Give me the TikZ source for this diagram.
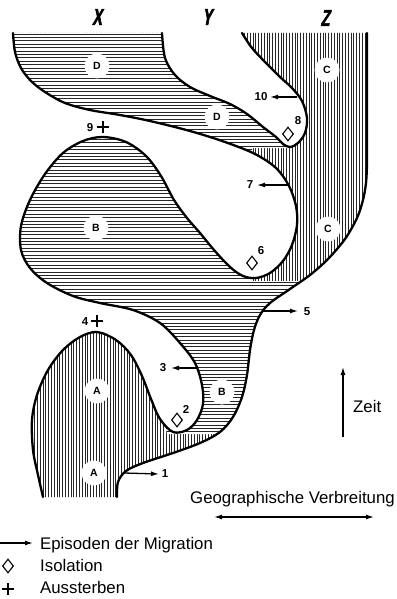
\documentclass[tikz,border=0pt]{standalone}
\usepackage{fontspec}
\usepackage{graphicx}
\setmainfont{Liberation Sans}
\newfontfamily\colfont{Liberation Sans Bold}[FakeBold=2.5, FakeSlant=0.18, FakeStretch=0.62]
\usetikzlibrary{arrows.meta,shapes.geometric}
\newcommand\pathP{plot[smooth,tension=0.55] coordinates{(13,33) (15,52) (21,68) (31,81) (45,92) (65,103) (90,110) (120,115) (150,121) (190,131) (225,142) (255,154) (276,168) (289,186) (296,206) (297,225) (292,245) (283,261) (270,273) (256,278) (243,276) (230,267) (214,250) (200,233) (187,218) (174,200) (161,176) (146,156) (126,142) (103,137) (83,141) (63,153) (45,174) (30,200) (21,226) (21,250) (30,268) (47,283) (73,296) (100,303) (133,310) (160,323) (180,343) (195,363) (202,385) (203,404) (197,420) (187,430) (173,432) (160,419) (151,399) (142,376) (131,355) (116,340) (97,332) (80,337) (63,350) (48,370) (37,395) (32,420) (33,450) (38,475) (43,497)}}
\newcommand\pathQj{-- plot[smooth,tension=0.55] coordinates{(117,497) (118,482) (126,471) (143,463) (173,453) (200,443) (220,432) (233,417) (242,397) (247,375) (250,350) (254,330) (260,315) (270,303) (290,289) (310,275) (328,259) (345,239) (357,218) (363,200) (366,183) (367,165)} -- (367,33)}
\newcommand\pathRj{-- plot[smooth,tension=0.55] coordinates{(242,33) (252,48) (266,63) (280,77) (292,88) (302,101) (307,118) (305,133) (298,143) (290,147) (283,144) (276,137) (263,127) (247,114) (230,104) (210,96) (190,87) (175,75) (165,58) (162,33)}}
\begin{document}
\begin{tikzpicture}[x=1pt,y=-1pt,
  outline/.style={line width=2.3pt, line join=round, line cap=round},
  hatch/.style={line width=0.85pt, black!85},
  halo/.style={circle, fill=white, inner sep=0pt, minimum size=25pt, font=\bfseries\fontsize{10.5}{11}\selectfont},
  num/.style={inner sep=0pt, font=\bfseries\fontsize{11.5}{12}\selectfont},
  mig/.style={line width=1.3pt, -{Latex[length=8pt,width=5pt]}},
  iso/.style={diamond, draw, line width=1.1pt, inner sep=0pt, minimum width=11pt, minimum height=14pt, fill=white},
  ext/.style={inner sep=0pt, minimum size=12pt, path picture={\draw[line width=2.2pt] (path picture bounding box.north) -- (path picture bounding box.south) (path picture bounding box.west) -- (path picture bounding box.east);}},
  txt/.style={inner sep=0pt, anchor=base west, font=\fontsize{16.8}{18}\selectfont},
  col/.style={inner sep=0pt, font=\colfont\fontsize{23}{23}\selectfont}
]
\useasboundingbox (0,0) rectangle (396,599);
\fill[white] (0,0) rectangle (396,599);
% vertical hatching everywhere in the shape
\begin{scope}
\clip \pathP \pathQj \pathRj -- cycle;
\foreach \x in {1,3.8,...,400} \draw[hatch] (\x,25) -- (\x,505);
\end{scope}
% horizontal hatching in D and B parts
\begin{scope}
\clip \pathP \pathQj \pathRj -- cycle;
\clip (0,0) -- (205,0) -- (290,148) -- (252,148) -- (252,281) -- (400,281) -- (400,434) -- (167,434) -- (160,400) -- (140,340) -- (0,315) -- cycle;
\fill[white] (0,0) rectangle (400,600);
\foreach \y in {34,37.4,...,440} \draw[hatch] (-5,\y) -- (400,\y);
\end{scope}
% outlines
\draw[outline] \pathP;
\draw[outline] (117,497) \pathQj;
\draw[outline] (242,33) \pathRj;
% column labels
\node[col] (lx) at (97,17) {X};
\node[col] (ly) at (207,17) {Y};
\node[col] (lz) at (325,18) {Z};
% species labels
\node[halo] (d1) at (97,66) {D};
\node[halo] (d2) at (217,117) {D};
\node[halo] (c1) at (327,70) {C};
\node[halo] (c2) at (328,229) {C};
\node[halo] (b1) at (96,228) {B};
\node[halo] (b2) at (222,392) {B};
\node[halo] (a1) at (97,391) {A};
\node[halo] (a2) at (94,473) {A};
% migration arrows
\coordinate (m1s) at (124,473); \coordinate (m1e) at (159,474);
\node[num] (n1) at (165,474) {1};
\draw[mig] (m1s) -- (m1e);
\coordinate (m3s) at (197,368); \coordinate (m3e) at (171,368);
\node[num] (n3) at (163,368) {3};
\draw[mig] (m3s) -- (m3e);
\coordinate (m5s) at (263,311); \coordinate (m5e) at (298,311);
\node[num] (n5) at (307,312) {5};
\draw[mig] (m5s) -- (m5e);
\coordinate (m7s) at (289,185); \coordinate (m7e) at (257,185);
\node[num] (n7) at (250,185) {7};
\draw[mig] (m7s) -- (m7e);
\coordinate (m10s) at (297,97); \coordinate (m10e) at (270,97);
\node[num] (n10) at (261,97) {10};
\draw[mig] (m10s) -- (m10e);
% isolation
\node[iso] (i8) at (288,134) {};
\node[num] (n8) at (298,121) {8};
\node[iso] (i6) at (252,263) {};
\node[num] (n6) at (261,251) {6};
\node[iso] (i2) at (177,420) {};
\node[num] (n2) at (186,409) {2};
% extinction
\node[ext] (x9) at (103,127) {};
\node[num] (n9) at (90,128) {9};
\node[ext] (x4) at (97,321) {};
\node[num] (n4) at (85,322) {4};
% axes
\coordinate (zs) at (343,437); \coordinate (ze) at (343,367);
\draw[mig] (zs) -- (ze);
\node[txt] (tz) at (353,412) {Zeit};
\coordinate (gs) at (214,517); \coordinate (ge) at (374,517);
\draw[line width=1.3pt, {Latex[length=8pt,width=5pt]}-{Latex[length=8pt,width=5pt]}] (gs) -- (ge);
\node[txt] (tg) at (190,503) {Geographische Verbreitung};
% legend
\coordinate (lgs) at (0,543); \coordinate (lge) at (33,543);
\draw[mig] (lgs) -- (lge);
\node[txt] (t1) at (40,549) {Episoden der Migration};
\node[iso] (li) at (8,566) {};
\node[txt] (t2) at (40,571) {Isolation};
\node[ext] (lp) at (8,589) {};
\node[txt] (t3) at (40,593) {Aussterben};
\end{tikzpicture}
\end{document}
